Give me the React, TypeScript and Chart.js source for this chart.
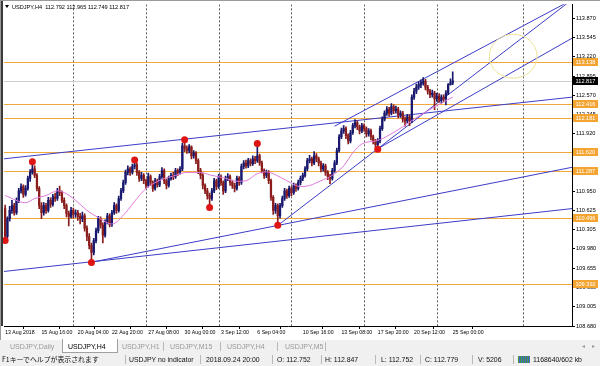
import React, { useEffect, useRef } from 'react';
import { Chart, registerables } from 'chart.js';
Chart.register(...registerables);

// ---------- data ----------
const firstOpen = 110.66;
const closes = [
  110.19,110.49,110.63,110.71,110.59,110.80,110.96,111.03,110.90,111.00,
  111.17,111.27,111.33,111.22,111.00,110.71,110.59,110.71,110.63,110.80,
  110.73,110.86,110.83,110.96,110.93,110.80,110.71,110.58,110.53,110.63,
  110.56,110.59,110.53,110.49,110.54,110.33,110.19,110.04,109.92,110.12,
  110.29,110.49,110.38,110.21,110.43,110.54,110.39,110.59,110.71,110.63,
  110.83,110.96,111.10,111.27,111.33,111.27,111.37,111.40,111.27,111.17,
  111.22,111.13,111.05,111.20,111.10,111.00,111.13,111.06,111.20,111.30,
  111.13,111.05,111.17,111.22,111.20,111.30,111.27,111.33,111.72,111.67,
  111.64,111.70,111.55,111.60,111.47,111.30,111.22,111.05,110.96,110.88,
  110.83,110.96,111.13,111.03,111.20,111.10,110.96,111.17,111.20,111.10,
  111.05,111.00,111.17,111.10,111.37,111.43,111.38,111.47,111.42,111.50,
  111.47,111.55,111.43,111.30,111.22,111.27,111.13,110.85,110.63,110.71,
  110.54,110.71,110.83,110.96,110.88,111.00,110.93,111.05,111.00,111.10,
  111.17,111.22,111.33,111.47,111.50,111.43,111.55,111.50,111.43,111.33,
  111.38,111.27,111.20,111.17,111.30,111.43,111.64,111.87,111.97,112.01,
  111.89,111.80,111.94,112.06,112.11,112.04,111.97,112.06,112.01,111.92,
  111.97,111.87,111.80,111.74,111.80,112.01,112.17,112.27,112.34,112.27,
  112.38,112.31,112.34,112.24,112.27,112.17,112.14,112.21,112.14,112.54,
  112.64,112.71,112.75,112.78,112.81,112.71,112.64,112.58,112.61,112.51,
  112.56,112.49,112.54,112.51,112.61,112.75,112.78,112.817,
];
const highs = [
  110.72,110.52,110.70,110.80,110.75,110.84,111.00,111.08,111.06,111.05,
  111.21,111.32,111.45,111.38,111.25,111.03,110.76,110.76,110.75,110.85,
  110.84,110.90,110.92,111.00,111.04,110.96,110.84,110.74,110.62,110.68,
  110.67,110.64,110.63,110.58,110.60,110.57,110.37,110.24,110.08,110.16,
  110.33,110.53,110.52,110.42,110.47,110.58,110.57,110.63,110.76,110.74,
  110.87,111.00,111.14,111.31,111.38,111.36,111.41,111.49,111.43,111.30,
  111.27,111.25,111.16,111.26,111.23,111.13,111.17,111.16,111.24,111.35,
  111.33,111.16,111.21,111.26,111.27,111.34,111.33,111.37,111.76,111.82,
  111.72,111.74,111.72,111.64,111.62,111.50,111.34,111.25,111.08,111.00,
  110.92,111.00,111.17,111.16,111.24,111.23,111.13,111.21,111.25,111.23,
  111.14,111.09,111.21,111.20,111.41,111.47,111.48,111.51,111.50,111.55,
  111.54,111.77,111.58,111.46,111.33,111.31,111.30,111.16,110.88,110.75,
  110.74,110.75,110.87,111.00,110.99,111.04,111.03,111.09,111.08,111.14,
  111.21,111.26,111.37,111.51,111.56,111.53,111.62,111.59,111.53,111.46,
  111.42,111.41,111.30,111.24,111.34,111.47,111.68,111.91,112.02,112.06,
  112.04,111.92,111.98,112.10,112.16,112.14,112.07,112.10,112.09,112.04,
  112.01,112.00,111.90,111.83,111.84,112.05,112.21,112.31,112.38,112.37,
  112.43,112.41,112.39,112.37,112.31,112.30,112.21,112.25,112.24,112.58,
  112.69,112.76,112.80,112.83,112.87,112.84,112.74,112.67,112.66,112.64,
  112.61,112.60,112.58,112.58,112.65,112.77,112.85,112.965,
];
const lows = [
  110.14,110.16,110.45,110.58,110.55,110.56,110.76,110.92,110.85,110.87,
  110.97,111.12,111.24,111.18,110.96,110.66,110.49,110.55,110.58,110.60,
  110.68,110.70,110.78,110.80,110.88,110.76,110.66,110.52,110.37,110.50,
  110.50,110.51,110.46,110.40,110.44,110.28,110.12,109.98,109.78,109.88,
  110.08,110.25,110.33,110.08,110.18,110.40,110.35,110.36,110.56,110.58,
  110.60,110.80,110.93,111.07,111.23,111.22,111.24,111.33,111.22,111.12,
  111.13,111.08,111.00,111.02,111.05,110.95,110.97,111.02,111.03,111.17,
  111.08,110.99,111.02,111.14,111.15,111.17,111.22,111.24,111.30,111.62,
  111.59,111.60,111.50,111.51,111.42,111.25,111.16,110.99,110.91,110.82,
  110.70,110.80,110.93,110.98,111.00,111.05,110.90,110.93,111.13,111.05,
  111.00,110.94,110.97,111.05,111.07,111.33,111.34,111.35,111.38,111.39,
  111.42,111.44,111.39,111.26,111.17,111.18,111.08,110.80,110.56,110.58,
  110.40,110.50,110.68,110.80,110.83,110.85,110.88,110.90,110.95,110.97,
  111.06,111.13,111.19,111.30,111.43,111.38,111.40,111.45,111.38,111.28,
  111.29,111.22,111.15,111.08,111.14,111.27,111.40,111.61,111.84,111.93,
  111.84,111.75,111.77,111.91,112.02,111.99,111.92,111.94,111.96,111.87,
  111.88,111.82,111.75,111.69,111.65,111.77,111.98,112.14,112.23,112.22,
  112.24,112.26,112.27,112.19,112.20,112.12,112.05,112.10,112.06,112.11,
  112.50,112.60,112.67,112.70,112.74,112.66,112.59,112.53,112.54,112.33,
  112.47,112.45,112.44,112.46,112.41,112.58,112.74,112.749,
];
const opens = closes.map((c, i) => (i === 0 ? firstOpen : closes[i - 1]));

const slotCount = 250;
const timeLabels = ['13 Aug 2018','15 Aug 16:00','20 Aug 04:00','22 Aug 20:00','27 Aug 08:00','30 Aug 00:00','3 Sep 12:00','6 Sep 04:00','10 Sep 16:00','13 Sep 08:00','17 Sep 20:00','20 Sep 12:00','25 Sep 00:00'];
const timeLabelBars = [0,16,32,47,63,79,95,111,131,148,164,180,197];
const gridBars = [30,62,94,126,158,190,228];
const priceTicks = [108.680,109.005,109.330,109.655,109.980,110.305,110.625,110.950,111.275,111.595,111.920,112.245,112.570,112.895,113.220,113.545,113.870];
const levels = [113.138,112.416,112.181,111.620,111.287,110.496,109.392];
const currentPrice = 112.817;

const dotBars = [0,12,38,57,79,90,111,120,164];
const dotPrices = [110.12,111.45,109.75,111.48,111.82,110.68,111.76,110.38,111.66];

const maBars = [0,9,13,18,23,27,31,36,41,47,53,58,62,69,75,80,86,90,97,102,106,111,115,119,124,130,134,139,144,149,153,157,164,169,175,180,186,192,197];
const maValues = [110.88,110.76,110.83,110.88,110.96,110.91,110.80,110.63,110.51,110.40,110.59,110.83,111.00,111.15,111.22,111.27,111.27,111.23,111.17,111.12,111.13,111.25,111.28,111.23,111.13,111.03,111.05,111.13,111.22,111.38,111.60,111.75,111.81,111.90,112.04,112.17,112.31,112.44,112.54];

// trend lines: start point -> through end point, extended to the right edge
const trendStartBar = [-0.5, -0.5, 38, 120, 164, 145];
const trendStartPrice = [111.50, 109.60, 109.755, 110.376, 111.67, 112.05];
const trendEndBar = [249.5, 249.5, 120, 164, 249.5, 235.7];
const trendEndPrice = [112.54, 110.66, 110.376, 111.67, 113.534, 113.90];

const ellipseCenterBar = 223.6;
const ellipseCenterPrice = 113.23;
const ellipseBarRadius = 10.5;
const ellipsePriceRadius = 0.37;

const titleText = 'USDJPY,H4  112.792 112.965 112.749 112.817';

// ---------- style ----------
const FONT = '"Liberation Sans", Arial, sans-serif';
const BULL = '#18186e';
const BEAR = '#8a1c1c';
const ORANGE = '#f2a93b';
const BLUE = '#3c3cc8';

const slotLabels = Array.from({ length: slotCount }, (_, i) => {
  const k = timeLabelBars.indexOf(i);
  return k >= 0 ? timeLabels[k] : '';
});

const mt4Plugin = {
  id: 'mt4',
  beforeDatasetsDraw(chart: any) {
    const { ctx, chartArea: a } = chart;
    const x = chart.scales.x, y = chart.scales.y;
    const line = (x1: number, y1: number, x2: number, y2: number) => {
      ctx.beginPath(); ctx.moveTo(x1, y1); ctx.lineTo(x2, y2); ctx.stroke();
    };
    ctx.save();
    ctx.beginPath(); ctx.rect(a.left, a.top, a.right - a.left, a.bottom - a.top); ctx.clip();
    ctx.lineWidth = 1;
    ctx.strokeStyle = '#5a5a5a';
    ctx.setLineDash([2, 2]);
    for (const b of gridBars) {
      const px = Math.round(x.getPixelForValue(b)) + 0.5;
      line(px, a.top, px, a.bottom);
    }
    ctx.setLineDash([]);
    const cy = Math.round(y.getPixelForValue(currentPrice)) + 0.5;
    ctx.strokeStyle = '#cfcfcf';
    line(a.left, cy, a.right, cy);
    ctx.strokeStyle = ORANGE;
    for (const lv of levels) {
      const py = Math.round(y.getPixelForValue(lv)) + 0.5;
      line(a.left, py, a.right, py);
    }
    ctx.strokeStyle = BLUE;
    for (let i = 0; i < trendStartBar.length; i++) {
      const x1 = x.getPixelForValue(trendStartBar[i]);
      const y1 = y.getPixelForValue(trendStartPrice[i]);
      const x2 = x.getPixelForValue(trendEndBar[i]);
      const y2 = y.getPixelForValue(trendEndPrice[i]);
      const slope = (y2 - y1) / (x2 - x1);
      line(x1, y1, a.right, y1 + slope * (a.right - x1));
    }
    ctx.strokeStyle = '#eee29a';
    const ex = x.getPixelForValue(ellipseCenterBar);
    const ey = y.getPixelForValue(ellipseCenterPrice);
    const rx = x.getPixelForValue(ellipseCenterBar + ellipseBarRadius) - ex;
    const ry = ey - y.getPixelForValue(ellipseCenterPrice + ellipsePriceRadius);
    ctx.beginPath(); ctx.ellipse(ex, ey, rx, ry, 0, 0, Math.PI * 2); ctx.stroke();
    ctx.restore();
  },
  afterDraw(chart: any) {
    const { ctx, chartArea: a } = chart;
    const y = chart.scales.y;
    ctx.save();
    ctx.font = `5.6px ${FONT}`;
    ctx.textAlign = 'center';
    ctx.textBaseline = 'middle';
    for (const lv of levels) {
      const py = Math.round(y.getPixelForValue(lv));
      ctx.fillStyle = '#f4a431';
      ctx.fillRect(a.right + 1, py - 4, 25, 8);
      ctx.fillStyle = '#ffffff';
      ctx.fillText(lv.toFixed(3), a.right + 13.5, py + 0.5);
    }
    const cp = Math.round(y.getPixelForValue(currentPrice));
    ctx.fillStyle = '#000000';
    ctx.fillRect(a.right + 1, cp - 4, 25, 8);
    ctx.fillStyle = '#ffffff';
    ctx.fillText(currentPrice.toFixed(3), a.right + 13.5, cp + 0.5);
    // title
    ctx.fillStyle = '#000';
    ctx.beginPath(); ctx.moveTo(5, 5); ctx.lineTo(9, 5); ctx.lineTo(7, 8); ctx.closePath(); ctx.fill();
    ctx.textAlign = 'left';
    ctx.fillText(titleText, 12, 7);
    // frame
    ctx.fillStyle = '#9a9a9a';
    ctx.fillRect(0, 0, 1, 340);
    ctx.fillRect(0, 0, 600, 1);
    ctx.fillStyle = '#3a3a3a';
    ctx.fillRect(1, 1, 2, a.bottom - 1);
    ctx.restore();
  },
};

export default function App() {
  const ref = useRef<HTMLCanvasElement>(null);
  useEffect(() => {
    document.body.style.margin = '0';
    const colorFor = (c: any) => {
      const i = c.dataIndex;
      return closes[i] >= opens[i] ? BULL : BEAR;
    };
    const chart = new Chart(ref.current as HTMLCanvasElement, {
      type: 'bar',
      data: {
        labels: slotLabels,
        datasets: [
          {
            type: 'line',
            data: closes.map((_, i) => { const k = dotBars.indexOf(i); return k >= 0 ? dotPrices[k] : null; }),
            showLine: false,
            pointRadius: 3.5,
            pointBackgroundColor: '#dd1515',
            pointBorderColor: '#dd1515',
            pointBorderWidth: 0,
            clip: false,
            order: 1,
          } as any,
          {
            type: 'line',
            data: closes.map((_, i) => { const k = maBars.indexOf(i); return k >= 0 ? maValues[k] : null; }),
            spanGaps: true,
            borderColor: '#e079dc',
            borderWidth: 1,
            pointRadius: 0,
            cubicInterpolationMode: 'monotone',
            order: 2,
          } as any,
          {
            type: 'bar',
            data: closes.map((c, i) => [opens[i], c]),
            backgroundColor: colorFor,
            borderWidth: 0,
            barThickness: 1.6,
            minBarLength: 1,
            grouped: false,
            order: 3,
          } as any,
          {
            type: 'bar',
            data: closes.map((_, i) => [lows[i], highs[i]]),
            backgroundColor: colorFor,
            borderWidth: 0,
            barThickness: 1,
            grouped: false,
            order: 4,
          } as any,
        ],
      },
      options: {
        responsive: false,
        devicePixelRatio: 1,
        animation: false,
        events: [],
        layout: { padding: { left: 3, top: 3, right: 0, bottom: 0 } },
        plugins: { legend: { display: false }, tooltip: { enabled: false } },
        scales: {
          x: {
            type: 'category',
            offset: true,
            grid: { display: true, drawOnChartArea: false, drawTicks: true, tickLength: 3, color: '#000' },
            border: { display: true, color: '#000' },
            ticks: { autoSkip: false, maxRotation: 0, minRotation: 0, align: 'start', padding: 0, color: '#000', font: { size: 5.2, family: FONT } },
            afterBuildTicks: (s: any) => { s.ticks = timeLabelBars.map((v) => ({ value: v })); },
            afterFit: (s: any) => { s.height = 14; },
          } as any,
          y: {
            type: 'linear',
            position: 'right',
            min: 108.68,
            max: 114.105,
            grid: { display: true, drawOnChartArea: false, drawTicks: true, tickLength: 3, color: '#000' },
            border: { display: true, color: '#000' },
            ticks: { padding: 1, color: '#000', font: { size: 5.6, family: FONT }, callback: (v: any) => Number(v).toFixed(3) },
            afterBuildTicks: (s: any) => { s.ticks = priceTicks.map((v) => ({ value: v })); },
            afterFit: (s: any) => { s.width = 28; },
          } as any,
        },
      },
      plugins: [mt4Plugin],
    } as any);
    return () => chart.destroy();
  }, []);

  const tab = (text: string, left: number) => (
    <span style={{ position: 'absolute', left, top: 0, lineHeight: '13px', color: '#9a9a9a' }}>{text}</span>
  );
  const sep = (left: number, color = '#b8b8b8') => (
    <span style={{ position: 'absolute', left, top: 2, width: 1, height: 9, background: color }} />
  );
  const stat = (text: string, left: number) => (
    <span style={{ position: 'absolute', left, top: 0, lineHeight: '13px', color: '#111' }}>{text}</span>
  );

  return (
    <div style={{ position: 'relative', width: 600, height: 366, overflow: 'hidden', background: '#fff' }}>
      <canvas ref={ref} width={600} height={340} style={{ display: 'block', width: 600, height: 340 }} />
      <div style={{ position: 'absolute', left: 0, top: 340, width: 600, height: 13, background: '#f0f0f0', font: `7px ${FONT}`, whiteSpace: 'nowrap' }}>
        {tab('USDJPY,Daily', 10)}
        <span style={{ position: 'absolute', left: 62, top: -1, width: 54, height: 13, background: '#fff', borderLeft: '1px solid #a0a0a0', borderRight: '1px solid #a0a0a0', borderBottom: '1px solid #a0a0a0' }} />
        <span style={{ position: 'absolute', left: 68, top: 0, lineHeight: '13px', color: '#000' }}>USDJPY,H4</span>
        {tab('USDJPY,H1', 122)}
        {sep(163)}
        {tab('USDJPY,M15', 170)}
        {sep(220)}
        {tab('USDJPY,H4', 227)}
        {sep(277)}
        {tab('USDJPY,M5', 285)}
        {sep(325)}
        <span style={{ position: 'absolute', left: 582, top: 0, lineHeight: '13px', color: '#999', fontSize: 6 }}>◂</span>
        <span style={{ position: 'absolute', left: 592, top: 0, lineHeight: '13px', color: '#999', fontSize: 6 }}>▸</span>
      </div>
      <div style={{ position: 'absolute', left: 0, top: 353, width: 600, height: 13, background: '#f0f0f0', font: `6.9px ${FONT}`, whiteSpace: 'nowrap' }}>
        <span style={{ position: 'absolute', left: 2, top: 0, lineHeight: '13px', color: '#111', fontFamily: '"Noto Sans CJK JP", sans-serif' }}>F1キーでヘルプが表示されます</span>
        {sep(125)}
        {stat('USDJPY no indicator', 129)}
        {sep(200)}
        {stat('2018.09.24 20:00', 206)}
        {sep(272)}
        {stat('O: 112.752', 277)}
        {sep(321)}
        {stat('H: 112.847', 325)}
        {sep(375)}
        {stat('L: 112.752', 381)}
        {sep(420)}
        {stat('C: 112.779', 425)}
        {sep(472)}
        {stat('V: 5206', 478)}
        {sep(513)}
        <span style={{ position: 'absolute', left: 518, top: 3, width: 12, height: 7, background: 'repeating-linear-gradient(90deg,#3d9a3d 0 1px,#4d63c9 1px 2px)' }} />
        {stat('1168640/602 kb', 533)}
      </div>
    </div>
  );
}
